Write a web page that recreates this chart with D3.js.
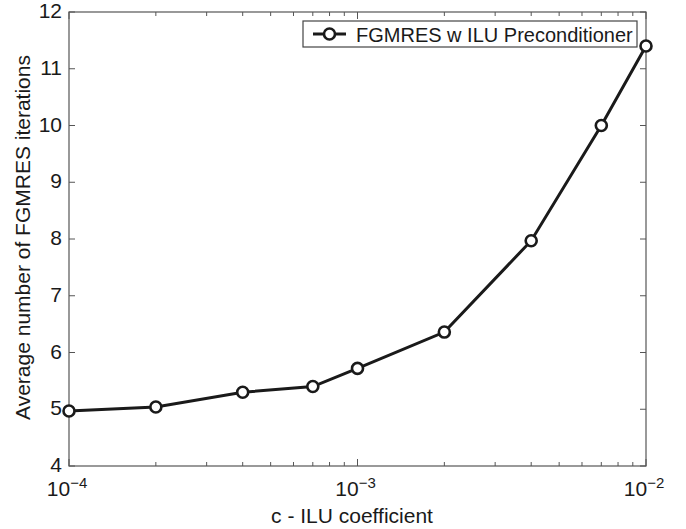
<!DOCTYPE html>
<html><head><meta charset="utf-8">
<script src="https://cdn.jsdelivr.net/npm/d3@7"></script>
<style>body{margin:0;background:#fff}svg{display:block}text{font-family:"Liberation Sans",Arial,sans-serif;fill:#1a1a1a}</style>
</head><body><svg id="c" width="686" height="529"></svg>
<script>
const xValues = [1e-4, 2e-4, 4e-4, 7e-4, 1e-3, 2e-3, 4e-3, 7e-3, 1e-2];
const yValues = [4.97, 5.04, 5.30, 5.40, 5.72, 6.36, 7.97, 10.0, 11.4];
const yTicks = [4, 5, 6, 7, 8, 9, 10, 11, 12];
const xMajor = [1e-4, 1e-3, 1e-2];
const xMajorExp = ["−4", "−3", "−2"];
const seriesName = "FGMRES w ILU Preconditioner";
const xTitle = "c - ILU coefficient";
const yTitle = "Average number of FGMRES iterations";

const svg = d3.select("#c");
const L = 69, R = 646, T = 12, B = 466;
const x = d3.scaleLog().domain([1e-4, 1e-2]).range([L, R]);
const y = d3.scaleLinear().domain([4, 12]).range([B, T]);
const axisCol = "#555";

const xMinor = [];
for (let e = -4; e < -2; e++) for (let m = 2; m <= 9; m++) xMinor.push(m * Math.pow(10, e));

svg.append("rect").attr("x", L).attr("y", T).attr("width", R - L).attr("height", B - T)
  .attr("fill", "none").attr("stroke", axisCol).attr("stroke-width", 1.2);

const g = svg.append("g");
yTicks.forEach(v => {
  g.append("line").attr("x1", L).attr("x2", L + 6).attr("y1", y(v)).attr("y2", y(v)).attr("stroke", axisCol);
  g.append("line").attr("x1", R).attr("x2", R - 6).attr("y1", y(v)).attr("y2", y(v)).attr("stroke", axisCol);
  svg.append("text").attr("x", L - 7).attr("y", y(v) + 6).attr("text-anchor", "end")
    .attr("font-size", 21).text(v);
});
xMajor.forEach((v, i) => {
  g.append("line").attr("x1", x(v)).attr("x2", x(v)).attr("y1", B).attr("y2", B - 7).attr("stroke", axisCol);
  g.append("line").attr("x1", x(v)).attr("x2", x(v)).attr("y1", T).attr("y2", T + 7).attr("stroke", axisCol);
  const t = svg.append("text").attr("x", x(v) - 2).attr("y", B + 30).attr("text-anchor", "middle").attr("font-size", 21);
  t.append("tspan").text("10");
  t.append("tspan").attr("dy", -8).attr("font-size", 15).text(xMajorExp[i]);
});
xMinor.forEach(v => {
  g.append("line").attr("x1", x(v)).attr("x2", x(v)).attr("y1", B).attr("y2", B - 4).attr("stroke", axisCol);
  g.append("line").attr("x1", x(v)).attr("x2", x(v)).attr("y1", T).attr("y2", T + 4).attr("stroke", axisCol);
});

const pts = xValues.map((v, i) => [v, yValues[i]]);
svg.append("path").datum(pts)
  .attr("d", d3.line().x(d => x(d[0])).y(d => y(d[1])))
  .attr("fill", "none").attr("stroke", "#1a1a1a").attr("stroke-width", 3);
svg.selectAll("circle.pt").data(pts).enter().append("circle")
  .attr("cx", d => x(d[0])).attr("cy", d => y(d[1])).attr("r", 5.5)
  .attr("fill", "#fff").attr("stroke", "#1a1a1a").attr("stroke-width", 2.6);

const lg = svg.append("g");
lg.append("rect").attr("x", 303).attr("y", 21).attr("width", 334).attr("height", 26)
  .attr("fill", "#fff").attr("stroke", "#444").attr("stroke-width", 1.2);
lg.append("line").attr("x1", 313).attr("x2", 346).attr("y1", 34).attr("y2", 34)
  .attr("stroke", "#1a1a1a").attr("stroke-width", 3);
lg.append("circle").attr("cx", 329.5).attr("cy", 34).attr("r", 5.5)
  .attr("fill", "#fff").attr("stroke", "#1a1a1a").attr("stroke-width", 2.6);
lg.append("text").attr("x", 356).attr("y", 41.5).attr("font-size", 20).text(seriesName);

svg.append("text").attr("x", 352).attr("y", 523).attr("text-anchor", "middle")
  .attr("font-size", 21).text(xTitle);
svg.append("text").attr("transform", `translate(30,237.5) rotate(-90)`)
  .attr("text-anchor", "middle").attr("font-size", 21).text(yTitle);
</script></body></html>
